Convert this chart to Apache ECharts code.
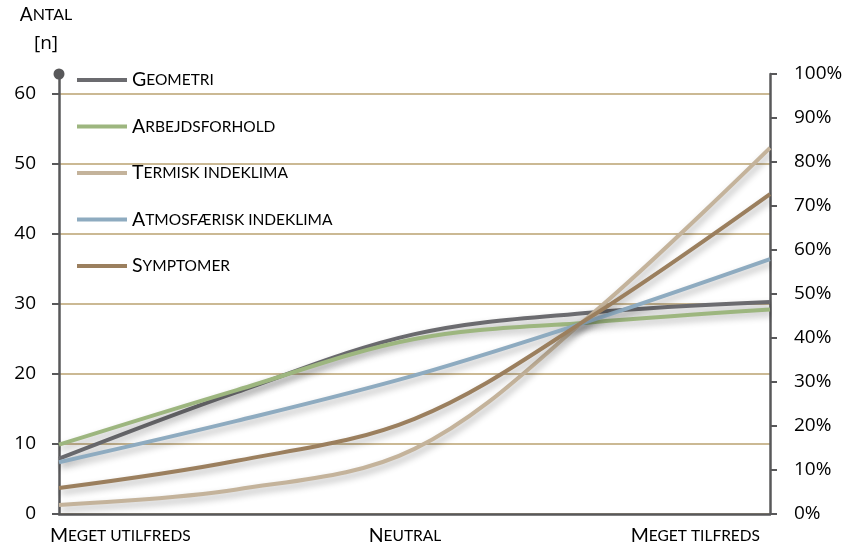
<!DOCTYPE html>
<html>
<head>
<meta charset="utf-8">
<script src="https://cdn.jsdelivr.net/npm/echarts@6/dist/echarts.min.js"></script>
<style>
  html, body { margin: 0; padding: 0; background: #ffffff; }
  #chart { width: 852px; height: 547px; }
</style>
</head>
<body>
<div id="chart"></div>
<script>
// Five-point satisfaction scale; only every other step is labelled
const categories = ['Meget utilfreds', 'Utilfreds', 'Neutral', 'Tilfreds', 'Meget tilfreds'];

const seriesNames = ['Geometri', 'Arbejdsforhold', 'Termisk indeklima', 'Atmosfærisk indeklima', 'Symptomer'];

// Counts per scale step [n]
const geometri       = [7.9, 17.4, 25.7, 28.8, 30.3];
const arbejdsforhold = [9.9, 17.7, 25.0, 27.4, 29.2];
const termisk        = [1.3, 3.5, 9.3, 28.6, 52.3];
const atmosfaerisk   = [7.4, 13.3, 19.8, 27.7, 36.4];
const symptomer      = [3.7, 7.6, 13.6, 28.3, 45.7];

// Axis ticks
const countTicks = [0, 10, 20, 30, 40, 50, 60];
const percentTicks = [0, 10, 20, 30, 40, 50, 60, 70, 80, 90, 100];

const seriesData = [geometri, arbejdsforhold, termisk, atmosfaerisk, symptomer];
const colors = ['#6b6b6f', '#9db67f', '#c4b39b', '#8eabc0', '#9b7f5e'];

const FONT = 'Lato';
const NUM_FONT = 'Open Sans';
const AXIS_COLOR = '#58585a';
const GRID_COLOR = '#cbb994';

// Small-caps look: capitals at full size, lower-case letters as reduced capitals
function smallCaps(text) {
  let out = '', cur = null, buf = '';
  for (const ch of text) {
    const lower = ch !== ch.toUpperCase();
    const key = (ch === ' ' && cur) ? cur : (lower ? 's' : 'u');
    if (key !== cur && buf) { out += '{' + cur + '|' + buf + '}'; buf = ''; }
    cur = key;
    buf += ch.toUpperCase();
  }
  if (buf) out += '{' + cur + '|' + buf + '}';
  return out;
}

const capsRich = {
  u: { fontFamily: FONT, fontSize: 19.5, color: '#000' },
  s: { fontFamily: FONT, fontSize: 15.5, color: '#000' }
};

const numLabel = { fontFamily: NUM_FONT, fontSize: 19, color: '#000' };

const chart = echarts.init(document.getElementById('chart'), null, { renderer: 'canvas' });

chart.setOption({
  animation: false,
  backgroundColor: '#ffffff',
  textStyle: { fontFamily: FONT },
  grid: [
    { left: 59, right: 82, top: 94, bottom: 33 },   // plot area, count scale 0-60
    { left: 59, right: 82, top: 73, bottom: 33 },   // full-height axes (left line, percent scale)
    { left: 50, right: 92, top: 73, bottom: 33 }    // category captions
  ],
  legend: {
    orient: 'vertical',
    left: 72,
    top: 65,
    itemWidth: 50,
    itemHeight: 4,
    itemGap: 26.5,
    icon: 'rect',
    data: seriesNames,
    formatter: name => smallCaps(name),
    textStyle: { rich: capsRich }
  },
  xAxis: [
    {
      gridIndex: 0,
      type: 'category',
      data: categories,
      boundaryGap: false,
      axisLine: { lineStyle: { color: AXIS_COLOR, width: 2.5 } },
      axisTick: { show: false },
      axisLabel: { show: false },
      splitLine: { show: false }
    },
    { gridIndex: 1, type: 'category', data: categories, boundaryGap: false, show: false },
    {
      gridIndex: 2,
      type: 'category',
      data: categories,
      boundaryGap: false,
      axisLine: { show: false },
      axisTick: { show: false },
      splitLine: { show: false },
      axisLabel: {
        interval: 1,
        margin: 12,
        alignMinLabel: 'left',
        alignMaxLabel: 'right',
        formatter: v => smallCaps(v),
        rich: capsRich
      }
    }
  ],
  yAxis: [
    {
      gridIndex: 0,
      type: 'value',
      min: countTicks[0],
      max: countTicks[countTicks.length - 1],
      interval: countTicks[1] - countTicks[0],
      axisLine: { show: false },
      axisTick: { show: true, length: 7, lineStyle: { color: AXIS_COLOR, width: 2 } },
      axisLabel: Object.assign({ margin: 23 }, numLabel),
      splitLine: { show: true, lineStyle: { color: GRID_COLOR, width: 2 } }
    },
    {
      gridIndex: 1,
      type: 'value',
      position: 'left',
      min: 0,
      max: 100,
      axisLine: {
        show: true,
        symbol: ['none', 'circle'],
        symbolSize: [11, 11],
        lineStyle: { color: AXIS_COLOR, width: 2.5 }
      },
      axisTick: { show: false },
      axisLabel: { show: false },
      splitLine: { show: false },
      name: '{u|A}{s|NTAL}\n{n|[n]}',
      nameLocation: 'end',
      nameGap: 16,
      nameTextStyle: {
        align: 'center',
        padding: [0, 26, 0, 0],
        lineHeight: 29,
        rich: {
          u: { fontFamily: FONT, fontSize: 19, color: '#000', lineHeight: 29 },
          s: { fontFamily: FONT, fontSize: 16, color: '#000', lineHeight: 29 },
          n: { fontFamily: NUM_FONT, fontSize: 19, color: '#000', lineHeight: 29 }
        }
      }
    },
    {
      gridIndex: 1,
      type: 'value',
      position: 'right',
      min: percentTicks[0],
      max: percentTicks[percentTicks.length - 1],
      interval: percentTicks[1] - percentTicks[0],
      axisLine: { show: true, lineStyle: { color: AXIS_COLOR, width: 2.5 } },
      axisTick: { show: true, length: 7, lineStyle: { color: AXIS_COLOR, width: 2 } },
      axisLabel: Object.assign({ margin: 24, formatter: '{value}%' }, numLabel),
      splitLine: { show: false }
    },
    { gridIndex: 2, type: 'value', show: false }
  ],
  series: seriesNames.map((name, i) => ({
    name: name,
    type: 'line',
    xAxisIndex: 0,
    yAxisIndex: 0,
    data: seriesData[i],
    smooth: 0.35,
    symbol: 'none',
    color: colors[i],
    lineStyle: {
      width: 4,
      color: colors[i],
      shadowColor: 'rgba(0,0,0,0.3)',
      shadowBlur: 7,
      shadowOffsetX: 2,
      shadowOffsetY: 4
    }
  }))
});
</script>
</body>
</html>
